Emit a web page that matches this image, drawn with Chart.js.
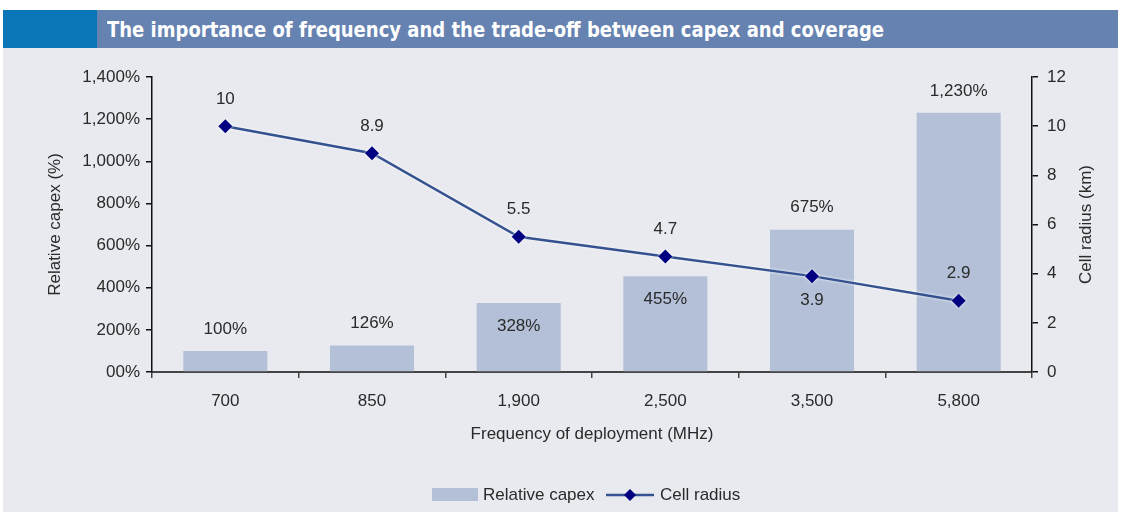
<!DOCTYPE html>
<html>
<head>
<meta charset="utf-8">
<script src="https://cdn.jsdelivr.net/npm/chart.js@4/dist/chart.umd.min.js"></script>
<style>
html, body { margin: 0; padding: 0; background: #fff; width: 1124px; height: 517px; overflow: hidden; }
#panel { position: absolute; left: 3px; top: 10px; width: 1115px; height: 502px; background: #e8eaef; }
#titlebar { position: absolute; left: 3px; top: 10px; width: 1115px; height: 38px; background: #6682b1; }
#titlebar .block { position: absolute; left: 0; top: 0; width: 94px; height: 38px; background: #0a76b8; }
#titlebar .txt { position: absolute; left: 104px; top: 0; color: #fff; white-space: nowrap;
  font: bold 21px 'Liberation Sans Narrow', 'DejaVu Sans Condensed', sans-serif; line-height: 40px;
  transform-origin: 0 50%; }
#chart { position: absolute; left: 0; top: 0; }
</style>
</head>
<body>
<div id="panel"></div>
<div id="titlebar"><div class="block"></div><div class="txt" id="ttl">The importance of frequency and the trade-off between capex and coverage</div></div>
<canvas id="chart" width="1124" height="517"></canvas>
<script>
// data
const categories = ['700', '850', '1,900', '2,500', '3,500', '5,800'];
const relativeCapex = [100, 126, 328, 455, 675, 1230];
const cellRadius = [10, 8.9, 5.5, 4.7, 3.9, 2.9];
const capexTicks = ['00%', '200%', '400%', '600%', '800%', '1,000%', '1,200%', '1,400%'];
const radiusTicks = ['0', '2', '4', '6', '8', '10', '12'];
const capexLabelPlace = ['above', 'above', 'inside', 'inside', 'above', 'above'];
const radiusLabelPlace = ['above', 'above', 'above', 'above', 'below', 'above'];

const barColor = '#b3c0d8';
const lineColor = '#34528f';
const pointColor = '#000080';
const textColor = '#2a2a2a';
const font = "'Liberation Sans', Arial, sans-serif";
const fs = 17;

// stretch title to the width it has in the picture
const ttl = document.getElementById('ttl');
const w = ttl.getBoundingClientRect().width;
ttl.style.transform = 'scaleX(' + (777 / w) + ')';

const extras = {
  id: 'extras',
  beforeDatasetDraw(chart, args) {
    if (args.index === 1) {
      chart.ctx.save();
      chart.ctx.shadowColor = 'rgba(255,255,255,0.95)';
      chart.ctx.shadowBlur = 3;
    }
  },
  afterDatasetDraw(chart, args) {
    if (args.index === 1) chart.ctx.restore();
  },
  afterDatasetsDraw(chart) {
    const ctx = chart.ctx;
    ctx.save();
    ctx.font = fs + 'px ' + font;
    ctx.fillStyle = textColor;
    ctx.textAlign = 'center';
    ctx.textBaseline = 'middle';
    chart.getDatasetMeta(0).data.forEach((bar, i) => {
      const y = capexLabelPlace[i] === 'inside' ? bar.y + 23 : bar.y - 22;
      ctx.fillText(relativeCapex[i].toLocaleString('en-US') + '%', bar.x, y);
    });
    chart.getDatasetMeta(1).data.forEach((pt, i) => {
      const y = radiusLabelPlace[i] === 'below' ? pt.y + 24 : pt.y - 27;
      ctx.fillText(String(cellRadius[i]), pt.x, y);
    });

    // right axis title, reads bottom to top
    const ca = chart.chartArea;
    ctx.save();
    ctx.translate(1086, (ca.top + ca.bottom) / 2);
    ctx.rotate(-Math.PI / 2);
    ctx.fillText('Cell radius (km)', 0, 0);
    ctx.restore();

    // legend
    const ly = 495;
    ctx.fillStyle = barColor;
    ctx.fillRect(432, ly - 7, 46, 13);
    ctx.fillStyle = textColor;
    ctx.textAlign = 'left';
    ctx.fillText(chart.data.datasets[0].label, 483, ly);
    ctx.strokeStyle = lineColor;
    ctx.lineWidth = 2.5;
    ctx.beginPath();
    ctx.moveTo(606, ly);
    ctx.lineTo(654, ly);
    ctx.stroke();
    ctx.fillStyle = pointColor;
    ctx.beginPath();
    ctx.moveTo(630, ly - 6);
    ctx.lineTo(636, ly);
    ctx.lineTo(630, ly + 6);
    ctx.lineTo(624, ly);
    ctx.closePath();
    ctx.fill();
    ctx.fillStyle = textColor;
    ctx.fillText(chart.data.datasets[1].label, 660, ly);
    ctx.restore();
  }
};

new Chart(document.getElementById('chart'), {
  type: 'bar',
  data: {
    labels: categories,
    datasets: [
      {
        type: 'bar',
        label: 'Relative capex',
        data: relativeCapex,
        yAxisID: 'y',
        backgroundColor: barColor,
        barPercentage: 0.573,
        categoryPercentage: 1,
        order: 1
      },
      {
        type: 'line',
        label: 'Cell radius',
        data: cellRadius,
        yAxisID: 'y1',
        borderColor: lineColor,
        borderWidth: 2.5,
        pointStyle: 'rectRot',
        pointRadius: 7,
        pointBorderWidth: 0,
        pointBackgroundColor: pointColor,
        pointBorderColor: pointColor,
        tension: 0,
        order: 0
      }
    ]
  },
  options: {
    responsive: false,
    animation: false,
    layout: { padding: { top: 77, left: 0, right: 0, bottom: 65 } },
    plugins: { legend: { display: false }, tooltip: { enabled: false } },
    scales: {
      x: {
        grid: { display: true, drawOnChartArea: false, tickLength: 6, color: '#444', lineWidth: 1.5 },
        border: { color: '#444', width: 2 },
        ticks: { color: textColor, font: { size: fs, family: font }, padding: 13 },
        title: { display: true, text: 'Frequency of deployment (MHz)', color: textColor,
                 font: { size: fs, family: font }, padding: { top: 0, bottom: 7 } },
        afterFit(s) { s.height = 80; }
      },
      y: {
        position: 'left',
        min: 0, max: 1400,
        ticks: { stepSize: 200, color: textColor, font: { size: fs, family: font }, padding: 6,
                 callback: (v, i) => capexTicks[i] },
        grid: { display: true, drawOnChartArea: false, tickLength: 6, color: '#111', lineWidth: 1.5 },
        border: { color: '#111', width: 1.5 },
        title: { display: true, text: 'Relative capex (%)', color: textColor,
                 font: { size: fs, family: font }, padding: { top: 45, bottom: 0 } },
        afterFit(s) { s.width = 152; }
      },
      y1: {
        position: 'right',
        min: 0, max: 12,
        ticks: { stepSize: 2, color: textColor, font: { size: fs, family: font }, padding: 9,
                 callback: (v, i) => radiusTicks[i] },
        grid: { display: true, drawOnChartArea: false, tickLength: 6, color: '#111', lineWidth: 1.5 },
        border: { color: '#111', width: 1.5 },
        afterFit(s) { s.width = 92; }
      }
    }
  },
  plugins: [extras]
});
</script>
</body>
</html>
